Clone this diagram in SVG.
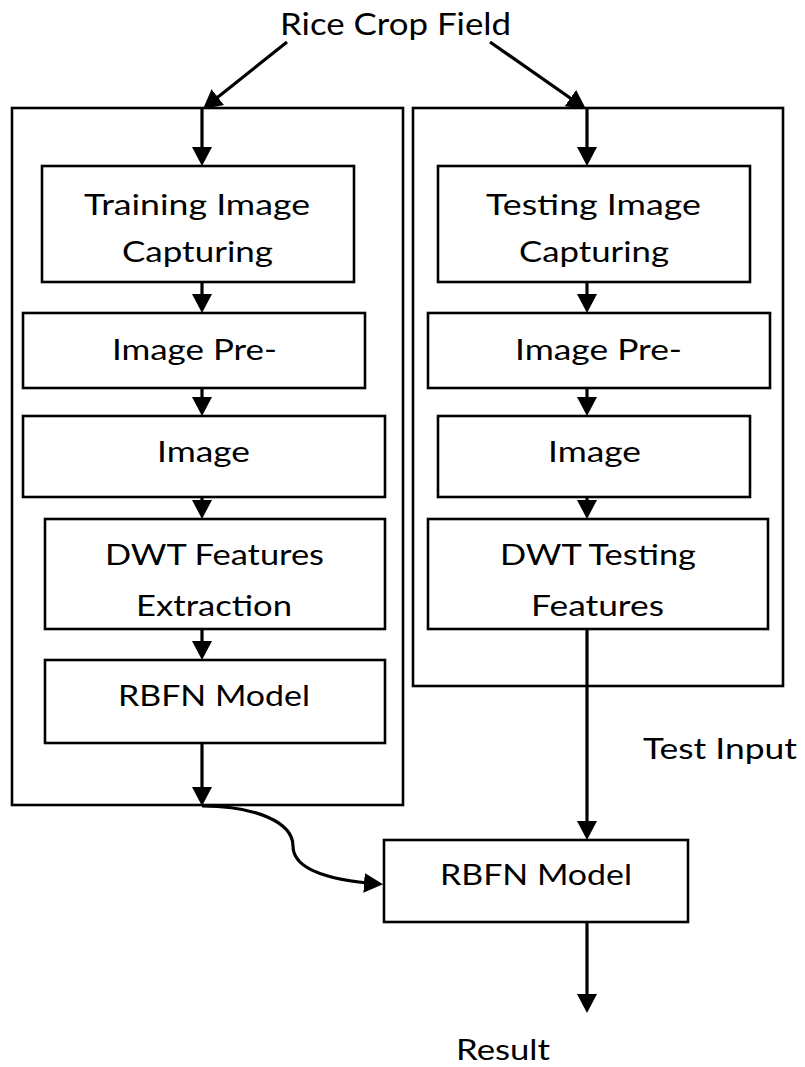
<svg xmlns="http://www.w3.org/2000/svg" width="805" height="1067" viewBox="0 0 805 1067">
<defs>
<style>
.box{fill:#fff;stroke:#000;stroke-width:2.6}
.frame{fill:none;stroke:#000;stroke-width:2.6}
.lbl{font-family:Lato,"Open Sans","Liberation Sans",sans-serif;font-size:29.5px;fill:#000}
.edge{fill:none;stroke:#000;stroke-width:3.2}
</style>
<marker id="ah" markerUnits="userSpaceOnUse" markerWidth="20" markerHeight="22" refX="15" refY="10" orient="auto" viewBox="0 0 20 20">
<path d="M0,0 L19,10 L0,20 z" fill="#000"/>
</marker>
</defs>
<rect width="805" height="1067" fill="#fff"/>
<g id="frame-training"><rect class="frame" x="12" y="108" width="391" height="697"/></g>
<g id="frame-testing"><rect class="frame" x="413" y="108" width="370" height="578"/></g>
<g id="connectors">
<path class="edge" d="M287,42 L206.1,106.5" marker-end="url(#ah)"/>
<path class="edge" d="M490,42 L582.7,106.7" marker-end="url(#ah)"/>
<path class="edge" d="M202,109 V162" marker-end="url(#ah)"/>
<path class="edge" d="M202,282 V309" marker-end="url(#ah)"/>
<path class="edge" d="M202,388 V412" marker-end="url(#ah)"/>
<path class="edge" d="M202,497 V515" marker-end="url(#ah)"/>
<path class="edge" d="M202,629 V656" marker-end="url(#ah)"/>
<path class="edge" d="M202,743 V802" marker-end="url(#ah)"/>
<path class="edge" d="M587,109 V162" marker-end="url(#ah)"/>
<path class="edge" d="M587,282 V309" marker-end="url(#ah)"/>
<path class="edge" d="M587,388 V412" marker-end="url(#ah)"/>
<path class="edge" d="M587,497 V515" marker-end="url(#ah)"/>
<path class="edge" d="M587,629 V836" marker-end="url(#ah)"/>
<path class="edge" d="M587,922 V1009" marker-end="url(#ah)"/>
<path class="edge" d="M202,806 C255,806 293,822 293,846 C293,868 325,880 379,884" marker-end="url(#ah)"/>
</g>
<g id="title"><text class="lbl" x="280" y="35" textLength="231" lengthAdjust="spacingAndGlyphs" style="font-size:31px">Rice Crop Field</text></g>
<g id="training-capture">
<rect class="box" x="42" y="166" width="312" height="116"/>
<text class="lbl" x="84" y="215" textLength="226" lengthAdjust="spacingAndGlyphs">Training Image</text>
<text class="lbl" x="122" y="262" textLength="151" lengthAdjust="spacingAndGlyphs">Capturing</text>
</g>
<g id="training-pre">
<rect class="box" x="23" y="313" width="342" height="75"/>
<text class="lbl" x="112" y="360" textLength="165" lengthAdjust="spacingAndGlyphs">Image Pre-</text>
</g>
<g id="training-image">
<rect class="box" x="23" y="416" width="362" height="81"/>
<text class="lbl" x="157" y="462" textLength="93" lengthAdjust="spacingAndGlyphs">Image</text>
</g>
<g id="training-dwt">
<rect class="box" x="45" y="519" width="340" height="110"/>
<text class="lbl" x="105" y="565" textLength="219" lengthAdjust="spacingAndGlyphs">DWT Features</text>
<text class="lbl" x="136" y="616" textLength="156" lengthAdjust="spacingAndGlyphs">Extraction</text>
</g>
<g id="training-rbfn">
<rect class="box" x="45" y="660" width="340" height="83"/>
<text class="lbl" x="118" y="706" textLength="192" lengthAdjust="spacingAndGlyphs">RBFN Model</text>
</g>
<g id="testing-capture">
<rect class="box" x="438" y="166" width="312" height="116"/>
<text class="lbl" x="486" y="215" textLength="215" lengthAdjust="spacingAndGlyphs">Testing Image</text>
<text class="lbl" x="519" y="262" textLength="150" lengthAdjust="spacingAndGlyphs">Capturing</text>
</g>
<g id="testing-pre">
<rect class="box" x="428" y="313" width="342" height="75"/>
<text class="lbl" x="515" y="360" textLength="167" lengthAdjust="spacingAndGlyphs">Image Pre-</text>
</g>
<g id="testing-image">
<rect class="box" x="438" y="416" width="312" height="81"/>
<text class="lbl" x="548" y="462" textLength="93" lengthAdjust="spacingAndGlyphs">Image</text>
</g>
<g id="testing-dwt">
<rect class="box" x="428" y="519" width="340" height="110"/>
<text class="lbl" x="500" y="565" textLength="196" lengthAdjust="spacingAndGlyphs">DWT Testing</text>
<text class="lbl" x="531" y="616" textLength="133" lengthAdjust="spacingAndGlyphs">Features</text>
</g>
<g id="rbfn-final">
<rect class="box" x="384" y="840" width="304" height="82"/>
<text class="lbl" x="440" y="885" textLength="192" lengthAdjust="spacingAndGlyphs">RBFN Model</text>
</g>
<g id="test-input-label"><text class="lbl" x="643" y="759" textLength="154" lengthAdjust="spacingAndGlyphs">Test Input</text></g>
<g id="result-label"><text class="lbl" x="456" y="1060" textLength="94" lengthAdjust="spacingAndGlyphs">Result</text></g>
</svg>
